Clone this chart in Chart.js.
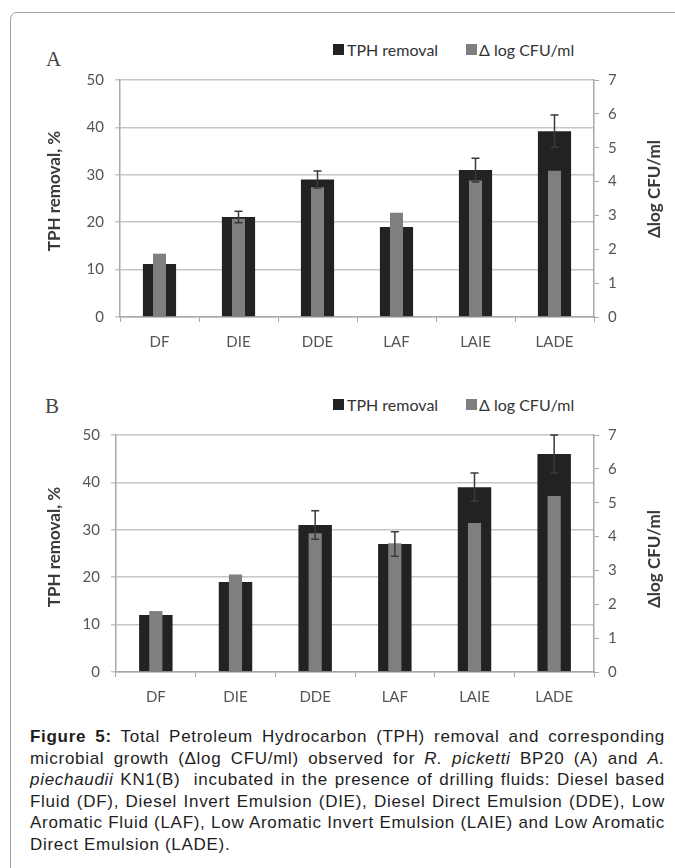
<!DOCTYPE html>
<html>
<head>
<meta charset="utf-8">
<script src="https://cdn.jsdelivr.net/npm/chart.js@4.4.1/dist/chart.umd.min.js"></script>
<style>
  body { margin: 0; width: 675px; height: 868px; overflow: hidden; background: #fff; position: relative; font-family: Lato, sans-serif; }
  #frame { position: absolute; left: 10px; top: 12px; width: 720px; height: 900px; border: 1px solid #a0a0a0; border-radius: 7px; }
  .panel { position: absolute; left: 0; width: 675px; height: 300px; }
  .tag { position: absolute; font-family: "Liberation Serif", serif; font-size: 21px; color: #444; line-height: 1; }
  .key { position: absolute; font-size: 16px; color: #333; line-height: 1; white-space: nowrap; }
  .key i { position: absolute; top: 2px; width: 11px; height: 11px; }
  .key span { position: absolute; top: 0; }
  #caption { position: absolute; left: 30px; top: 726px; width: 635px; font-family: "Liberation Sans", Arial, sans-serif; font-size: 17px; letter-spacing: 0.7px; color: #1e1e1e; line-height: 21.6px; }
  #caption div { white-space: nowrap; text-align: justify; text-align-last: justify; }
  #caption div.last { text-align-last: left; }
</style>
</head>
<body>
<div id="frame"></div>

<div class="tag" style="left:46px;top:49px;">A</div>
<div class="key" style="left:0;top:42px;">
  <i style="left:333px;background:#222;"></i><span style="left:347px;">TPH removal</span>
  <i style="left:466px;background:#7f7f7f;"></i><span style="left:479px;">Δ log CFU/ml</span>
</div>
<div class="panel" style="top:60px;"><canvas id="chartA"></canvas></div>

<div class="tag" style="left:45px;top:396px;">B</div>
<div class="key" style="left:0;top:397px;">
  <i style="left:333px;background:#222;"></i><span style="left:347px;">TPH removal</span>
  <i style="left:466px;background:#7f7f7f;"></i><span style="left:479px;">Δ log CFU/ml</span>
</div>
<div class="panel" style="top:415px;"><canvas id="chartB"></canvas></div>

<div id="caption">
  <div><b>Figure 5:</b> Total Petroleum Hydrocarbon (TPH) removal and corresponding</div>
  <div>microbial growth (Δlog CFU/ml) observed for <i>R. picketti</i> BP20 (A) and <i>A.</i></div>
  <div><i>piechaudii</i> KN1(B)&nbsp; incubated in the presence of drilling fluids: Diesel based</div>
  <div>Fluid (DF), Diesel Invert Emulsion (DIE), Diesel Direct Emulsion (DDE), Low</div>
  <div>Aromatic Fluid (LAF), Low Aromatic Invert Emulsion (LAIE) and Low Aromatic</div>
  <div class="last">Direct Emulsion (LADE).</div>
</div>

<script>
const categories = ['DF', 'DIE', 'DDE', 'LAF', 'LAIE', 'LADE'];

// panel A: R. picketti BP20
const tphA = [11.2, 21.1, 29, 19, 31, 39.2];
const tphErrA = [0, 1.2, 1.8, 0, 2.5, 3.4];
const cfuA = [1.87, 2.9, 3.83, 3.08, 4.03, 4.32];

// panel B: A. piechaudii KN1
const tphB = [12, 19, 31, 27, 39, 46];
const tphErrB = [0, 0, 3, 2.6, 3, 4];
const cfuB = [1.8, 2.88, 4.1, 3.8, 4.4, 5.2];

const leftMax = 50, leftStep = 10;
const rightMax = 7, rightStep = 1;

const tickFont = { family: 'Lato', size: 15 };
const tickColor = '#555';
const gridColor = '#c6c6c6';
const axisColor = '#a8a8a8';

function overlay(tph, err, titleY) {
  return {
    id: 'overlay',
    afterDatasetsDraw(chart) {
      const ctx = chart.ctx;
      const meta = chart.getDatasetMeta(0);
      const y = chart.scales.y;
      ctx.save();
      ctx.strokeStyle = '#3a3a3a';
      ctx.lineWidth = 1.5;
      tph.forEach((v, i) => {
        if (!err[i]) return;
        const x = meta.data[i].x;
        const t = y.getPixelForValue(v + err[i]);
        const b = y.getPixelForValue(v - err[i]);
        ctx.beginPath();
        ctx.moveTo(x, t); ctx.lineTo(x, b);
        ctx.moveTo(x - 4, t); ctx.lineTo(x + 4, t);
        ctx.moveTo(x - 4, b); ctx.lineTo(x + 4, b);
        ctx.stroke();
      });
      ctx.restore();
    },
    afterDraw(chart) {
      // axis titles, both read bottom to top
      const ctx = chart.ctx;
      ctx.save();
      ctx.fillStyle = '#3a3a3a';
      ctx.font = 'bold 17px Lato';
      ctx.textAlign = 'center';
      ctx.textBaseline = 'middle';
      ctx.translate(55, titleY[0]);
      ctx.rotate(-Math.PI / 2);
      ctx.fillText('TPH removal, %', 0, 0);
      ctx.restore();
      ctx.save();
      ctx.fillStyle = '#3a3a3a';
      ctx.font = 'bold 17px Lato';
      ctx.textAlign = 'center';
      ctx.textBaseline = 'middle';
      ctx.translate(655, titleY[1]);
      ctx.rotate(-Math.PI / 2);
      ctx.fillText('Δlog CFU/ml', 0, 0);
      ctx.restore();
    }
  };
}

function makeChart(id, tph, err, cfu, leftPx, titleY) {
  new Chart(document.getElementById(id), {
    type: 'bar',
    data: {
      labels: categories,
      datasets: [
        { label: 'TPH removal', data: tph, yAxisID: 'y', backgroundColor: '#222',
          grouped: false, barPercentage: 0.42, categoryPercentage: 1, order: 1 },
        { label: 'Δ log CFU/ml', data: cfu, yAxisID: 'y1', backgroundColor: '#7f7f7f',
          grouped: false, barPercentage: 0.165, categoryPercentage: 1, order: 0 }
      ]
    },
    options: {
      responsive: true,
      maintainAspectRatio: false,
      animation: false,
      layout: { padding: { top: 14, left: 0, right: 0, bottom: 0 } },
      plugins: { legend: { display: false }, tooltip: { enabled: false } },
      scales: {
        x: {
          grid: { offset: true, drawOnChartArea: false, drawTicks: true, tickLength: 5, color: axisColor, lineWidth: 1 },
          border: { color: axisColor, width: 1.5 },
          ticks: { font: tickFont, color: tickColor, padding: 11 },
          afterFit: s => { s.height = 43; }
        },
        y: {
          position: 'left', min: 0, max: leftMax,
          grid: { color: gridColor, lineWidth: 1.5, tickLength: 5 },
          border: { color: axisColor, width: 1.5 },
          ticks: { stepSize: leftStep, font: tickFont, color: tickColor, padding: 11 },
          afterFit: s => { s.width = leftPx; }
        },
        y1: {
          position: 'right', min: 0, max: rightMax,
          grid: { drawOnChartArea: false, color: axisColor, tickLength: 5 },
          border: { color: axisColor, width: 1.5 },
          ticks: { stepSize: rightStep, font: tickFont, color: tickColor, padding: 9 },
          afterFit: s => { s.width = 81; }
        }
      }
    },
    plugins: [overlay(tph, err, titleY)]
  });
}

makeChart('chartA', tphA, tphErrA, cfuA, 120, [131, 129]);
makeChart('chartB', tphB, tphErrB, cfuB, 116, [132, 144]);
</script>
</body>
</html>
